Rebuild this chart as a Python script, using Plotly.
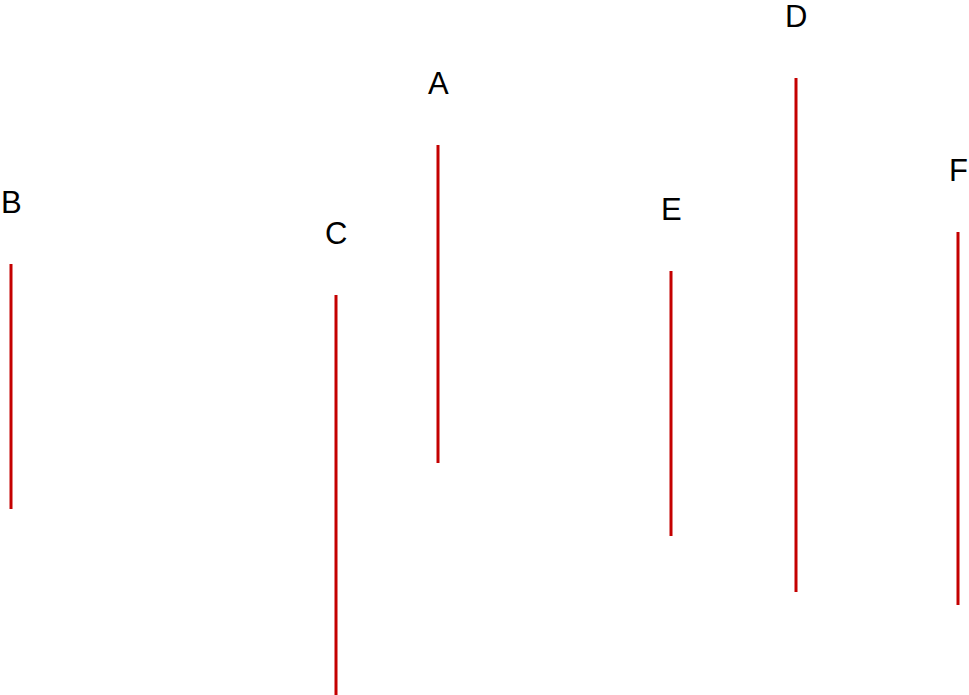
import plotly.graph_objects as go

labels = ["B", "C", "A", "E", "D", "F"]
x_pos = [11, 336, 438, 671, 796, 958]
y_high = [431, 400, 550, 424, 617, 463]
y_low = [186, -5, 232, 159, 103, 90]

xs, ys = [], []
for x, lo, hi in zip(x_pos, y_low, y_high):
    xs += [x, x, None]
    ys += [lo, hi, None]

fig = go.Figure()
fig.add_trace(go.Scatter(x=xs, y=ys, mode="lines",
                         line=dict(color="#c40000", width=3),
                         hoverinfo="skip", showlegend=False))

for lab, x, hi in zip(labels, x_pos, y_high):
    fig.add_annotation(x=x, y=hi, text=lab, showarrow=False,
                       yanchor="middle", xanchor="center", yshift=62,
                       font=dict(family="Liberation Sans, Arial, sans-serif", size=31, color="black"))

fig.update_layout(
    width=969, height=695,
    margin=dict(l=0, r=0, t=0, b=0),
    paper_bgcolor="white", plot_bgcolor="white",
    xaxis=dict(range=[0, 969], visible=False),
    yaxis=dict(range=[0, 695], visible=False),
)
fig.write_html("out.html", config={"displayModeBar": False},
               post_script="document.body.style.margin='0';document.body.style.overflow='hidden';")
